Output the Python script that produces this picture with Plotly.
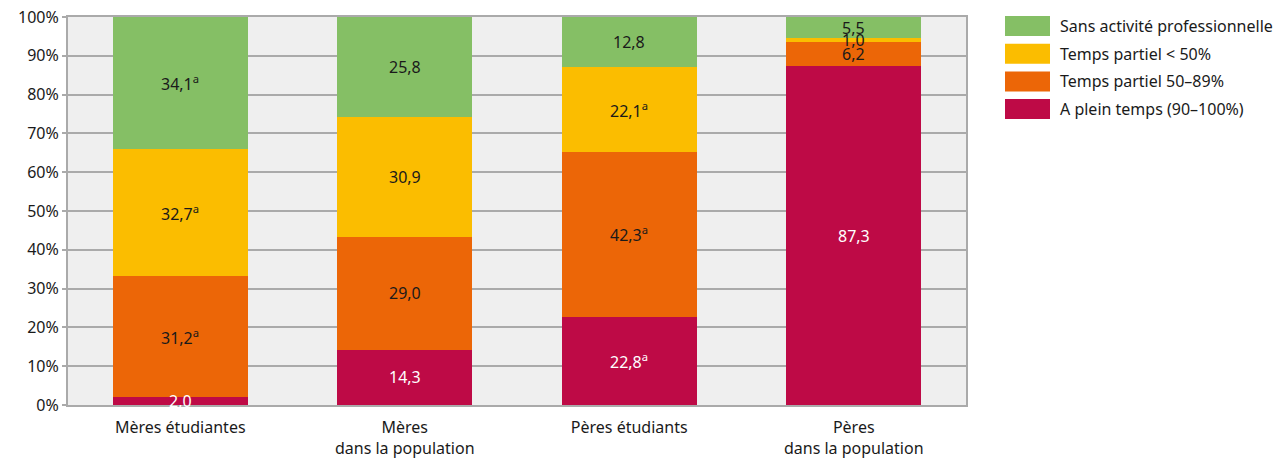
import plotly.graph_objects as go

categories = ["Mères étudiantes", "Mères<br>dans la population", "Pères étudiants", "Pères<br>dans la population"]
series_names = ["A plein temps (90–100%)", "Temps partiel 50–89%", "Temps partiel < 50%", "Sans activité professionnelle"]
plein = [2.0, 14.3, 22.8, 87.3]
p50_89 = [31.2, 29.0, 42.3, 6.2]
p_lt50 = [32.7, 30.9, 22.1, 1.0]
sans = [34.1, 25.8, 12.8, 5.5]
flags_plein = ["", "", "a", ""]
flags_50_89 = ["a", "", "a", ""]
flags_lt50 = ["a", "", "a", ""]
flags_sans = ["a", "", "", ""]
y_ticks = [0, 10, 20, 30, 40, 50, 60, 70, 80, 90, 100]
y_tick_labels = ["0%", "10%", "20%", "30%", "40%", "50%", "60%", "70%", "80%", "90%", "100%"]

colors = ["#be0a46", "#ec6607", "#fbbd00", "#85bf65"]
text_colors = ["white", "#1a1a1a", "#1a1a1a", "#1a1a1a"]
FONT = "Noto Sans, Open Sans, sans-serif"
FS = 16

def fmt(v, f):
    s = f"{v:.1f}".replace(".", ",")
    if f:
        s += f"<sup>{f}</sup>"
    return s

fig = go.Figure()
all_series = [(plein, flags_plein), (p50_89, flags_50_89), (p_lt50, flags_lt50), (sans, flags_sans)]
base = [0.0] * len(categories)
for i, (vals, flags) in enumerate(all_series):
    fig.add_trace(go.Bar(
        x=categories, y=vals, name=series_names[i],
        marker=dict(color=colors[i], line=dict(width=0)),
        width=0.6, showlegend=False, hoverinfo="x+y+name",
    ))
    # value labels drawn on top of all bars, centred in each segment
    for j, (v, f) in enumerate(zip(vals, flags)):
        fig.add_annotation(x=categories[j], y=base[j] + v / 2, xref="x", yref="y",
                           text=fmt(v, f), showarrow=False,
                           xanchor="center", yanchor="middle",
                           font=dict(color=text_colors[i], size=FS, family=FONT))
        base[j] += v

# page body has an 8px margin: size the figure so the plot lands where the reference has it
fig.update_layout(
    barmode="stack",
    width=1276, height=455,
    margin=dict(l=60, r=318, t=9, b=58, autoexpand=False),
    paper_bgcolor="white", plot_bgcolor="#efefef",
    font=dict(family=FONT, size=FS, color="#1a1a1a"),
    xaxis=dict(showline=True, linecolor="#aaaaaa", linewidth=2, mirror=True,
               ticks="outside", ticklen=7, tickcolor="rgba(0,0,0,0)",
               showgrid=False, tickfont=dict(size=FS), automargin=False),
    yaxis=dict(range=[0, 100], tickmode="array", tickvals=y_ticks, ticktext=y_tick_labels,
               showgrid=True, gridcolor="#aaaaaa", gridwidth=2,
               showline=True, linecolor="#aaaaaa", linewidth=2, mirror=True,
               ticks="outside", ticklen=4, tickcolor="#aaaaaa", tickwidth=2,
               zeroline=False, tickfont=dict(size=FS), automargin=False,
               ticklabeloverflow="allow"),
)

# custom legend (large swatches), top to bottom
legend_order = [3, 2, 1, 0]
row_h = 27.7
y0 = 26
for k, idx in enumerate(legend_order):
    yc = y0 + k * row_h
    fig.add_shape(type="rect", xref="paper", yref="paper",
                  x0=(1005 - 68) / 898, x1=(1050 - 68) / 898,
                  y0=(405 - (yc + 10)) / 388, y1=(405 - (yc - 10)) / 388,
                  fillcolor=colors[idx], line=dict(width=0))
    fig.add_annotation(xref="paper", yref="paper",
                       x=(1058 - 68) / 898, y=(405 - yc) / 388,
                       xanchor="left", yanchor="middle", showarrow=False,
                       text=series_names[idx], font=dict(size=FS, family=FONT, color="#1a1a1a"))

fig.write_html("out.html")
